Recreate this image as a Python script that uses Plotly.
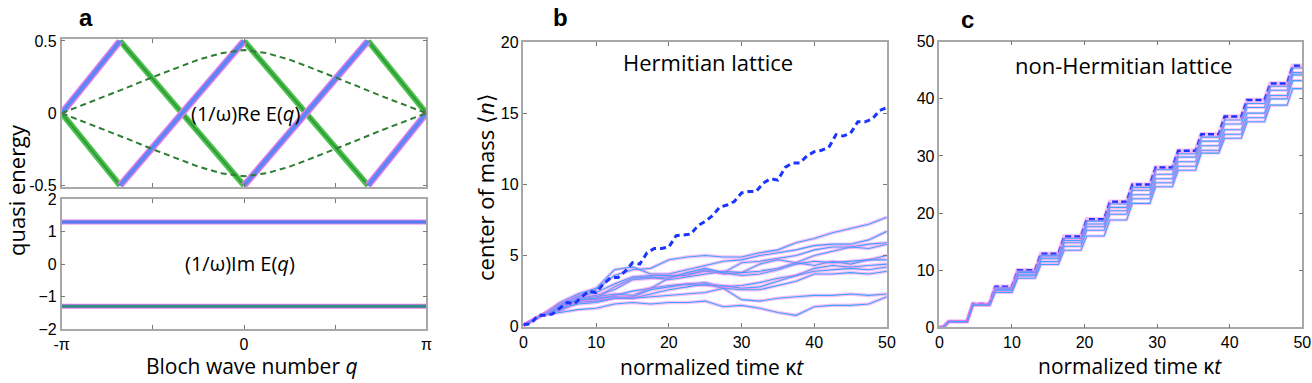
import plotly.graph_objects as go

# ---- panel a: quasi energy bands (q in units of pi) ----
re_blue_q = [-1, -0.68, None, -0.68, 0, None, 0, 0.68, None, 0.68, 1]
re_blue_e = [0, 0.5, None, -0.5, 0.5, None, -0.5, 0.5, None, -0.5, 0]
re_green_q = [-1, -0.68, None, -0.68, 0, None, 0, 0.68, None, 0.68, 1]
re_green_e = [0, -0.5, None, 0.5, -0.5, None, 0.5, -0.5, None, 0.5, 0]

dash_q = [-1, -0.875, -0.75, -0.625, -0.5, -0.375, -0.25, -0.125, 0,
          0.125, 0.25, 0.375, 0.5, 0.625, 0.75, 0.875, 1]
dash_up = [0, 0.06, 0.12, 0.185, 0.25, 0.31, 0.37, 0.415, 0.437,
           0.415, 0.37, 0.31, 0.25, 0.185, 0.12, 0.06, 0]
dash_lo = [-v for v in dash_up]

im_q = [-1, 1]
im_up = [1.3, 1.3]
im_lo = [-1.3, -1.3]

# ---- panel b: Hermitian lattice ----
t_b = [0, 2.5, 5, 7.5, 10, 12.5, 15, 17.5, 20, 22.5, 25, 27.5, 30, 32.5, 35, 37.5, 40, 42.5, 45, 47.5, 50]
herm_lines = [
    [0.1, 0.8, 1.5, 2.2, 2.6, 3.6, 4.0, 4.1, 4.7, 4.9, 5.0, 4.9, 4.9, 5.2, 5.4, 5.9, 6.2, 6.6, 6.9, 7.2, 7.7],
    [0.1, 0.8, 1.7, 2.3, 2.7, 4.0, 4.2, 3.7, 3.7, 4.0, 4.3, 4.6, 4.7, 5.0, 5.2, 5.4, 5.7, 5.8, 5.8, 6.1, 6.7],
    [0.1, 0.8, 1.4, 2.0, 2.2, 2.6, 3.3, 3.4, 3.5, 3.7, 3.9, 3.8, 4.5, 4.6, 4.8, 5.0, 5.4, 5.6, 5.6, 5.8, 5.9],
    [0.1, 0.8, 1.6, 2.1, 2.4, 3.0, 3.5, 3.6, 3.6, 3.6, 4.0, 3.7, 3.8, 4.4, 4.7, 4.5, 5.0, 5.3, 5.6, 5.5, 5.8],
    [0.1, 0.8, 1.3, 1.8, 2.0, 2.8, 3.4, 3.5, 3.3, 3.5, 3.7, 3.9, 3.8, 3.9, 4.1, 4.5, 4.3, 4.6, 4.4, 4.7, 5.0],
    [0.1, 0.8, 1.2, 1.9, 1.9, 2.2, 2.5, 2.7, 3.4, 3.8, 4.1, 3.8, 3.6, 3.7, 4.0, 4.4, 4.6, 4.5, 4.6, 4.7, 4.7],
    [0.1, 0.8, 1.5, 2.0, 2.1, 2.3, 2.2, 2.7, 2.9, 3.0, 3.1, 2.8, 2.9, 3.1, 3.4, 3.6, 4.1, 4.3, 4.2, 4.3, 4.4],
    [0.1, 0.8, 1.1, 1.7, 1.8, 2.0, 2.1, 2.6, 2.8, 3.0, 2.9, 2.9, 2.7, 2.8, 3.2, 3.6, 3.9, 4.0, 4.1, 4.0, 4.2],
    [0.1, 0.8, 1.4, 1.9, 2.0, 2.1, 2.0, 2.3, 2.6, 2.8, 3.0, 2.7, 2.6, 2.6, 2.9, 3.2, 3.7, 3.7, 3.8, 3.7, 3.9],
    [0.1, 0.8, 1.3, 1.6, 1.7, 2.0, 2.0, 2.1, 2.2, 2.3, 2.4, 2.7, 1.9, 1.8, 2.0, 2.1, 2.2, 2.2, 2.3, 2.2, 2.3],
    [0.1, 0.8, 1.0, 1.2, 1.3, 1.6, 1.7, 1.6, 1.7, 1.7, 1.8, 1.4, 1.5, 1.3, 1.0, 0.8, 1.4, 1.5, 1.5, 1.6, 2.1],
]
t_avg = list(range(0, 51))
herm_avg = [0.15, 0.2, 0.8, 0.8, 0.9, 1.3, 1.7, 1.6, 2.1, 2.5, 2.4, 3.0, 3.45, 3.45, 3.9, 4.5, 4.4,
            5.2, 5.5, 5.5, 5.6, 6.4, 6.45, 6.5, 7.1, 7.4, 7.8, 8.4, 8.55, 8.8, 9.4, 9.5, 9.5,
            10.1, 10.4, 10.3, 11.2, 11.5, 11.5, 12.0, 12.3, 12.4, 12.6, 13.5, 13.4, 13.6,
            14.4, 14.4, 14.6, 15.2, 15.4]

# ---- panel c: non-Hermitian lattice (staircase) ----
rise_t = [0.9, 4.2, 7.3, 10.4, 13.6, 16.8, 19.9, 23.1, 26.2, 29.4, 32.5, 35.7, 38.9, 42.0, 45.2, 48.3]
nh_levels = [
    [1, 4.1, 7.1, 10.0, 12.9, 15.9, 18.9, 22.0, 25.0, 28.0, 30.9, 33.8, 36.9, 39.8, 42.7, 45.8],
    [1, 4.0, 6.9, 9.8, 12.6, 15.6, 18.6, 21.6, 24.5, 27.6, 30.4, 33.3, 36.3, 39.2, 42.2, 45.4],
    [1, 4.0, 6.8, 9.6, 12.3, 15.2, 18.1, 21.0, 24.0, 26.8, 29.8, 32.6, 35.6, 38.5, 41.5, 44.6],
    [1, 3.9, 6.6, 9.3, 12.0, 14.8, 17.6, 20.4, 23.2, 26.0, 29.0, 31.8, 34.6, 37.5, 40.6, 44.2],
    [1, 3.9, 6.4, 9.0, 11.5, 14.2, 17.0, 19.8, 22.5, 25.3, 28.2, 31.0, 33.8, 36.7, 40.0, 43.2],
    [1, 3.9, 6.1, 8.6, 11.0, 13.5, 16.0, 18.8, 21.7, 24.6, 27.5, 30.5, 33.1, 36.0, 38.9, 41.8],
]

PINK = "rgba(235,120,235,0.45)"
CYAN = "#3fa2ff"
DARKBLUE = "#1a35ff"

fig = go.Figure()


def band(x, y, xa, ya, outer, ow, inner, iw):
    fig.add_trace(go.Scatter(x=x, y=y, mode="lines", xaxis=xa, yaxis=ya,
                             line=dict(color=outer, width=ow), hoverinfo="skip"))
    fig.add_trace(go.Scatter(x=x, y=y, mode="lines", xaxis=xa, yaxis=ya,
                             line=dict(color=inner, width=iw), hoverinfo="skip"))


# a top
band(re_green_q, re_green_e, "x", "y", "#4cc24c", 6, "#2f9a3a", 2)
band(re_blue_q, re_blue_e, "x", "y", "#e47ce8", 7, "#5b86f5", 4)
for d in (dash_up, dash_lo):
    fig.add_trace(go.Scatter(x=dash_q, y=d, mode="lines", xaxis="x", yaxis="y",
                             line=dict(color="#2e7d32", width=2, dash="6px,4px")))
# a bottom
band(im_q, im_up, "x2", "y2", "#e47ce8", 5, "#4f7ff0", 3)
band(im_q, im_lo, "x2", "y2", "#e47ce8", 5, "#2f8f86", 3)

# b
for ln in herm_lines:
    fig.add_trace(go.Scatter(x=t_b, y=ln, mode="lines", xaxis="x3", yaxis="y3",
                             line=dict(color=PINK, width=3.5)))
    fig.add_trace(go.Scatter(x=t_b, y=ln, mode="lines", xaxis="x3", yaxis="y3",
                             line=dict(color=CYAN, width=1.1)))
fig.add_trace(go.Scatter(x=t_avg, y=herm_avg, mode="lines", xaxis="x3", yaxis="y3",
                         line=dict(color=DARKBLUE, width=3, dash="6px,4px")))

# c
for i, lev in enumerate(nh_levels):
    xs, ys = [0], [0]
    prev = 0
    for tk, lv in zip(rise_t, lev):
        xs += [tk - 0.4, tk + 0.4]
        ys += [prev, lv]
        prev = lv
    xs.append(50)
    ys.append(prev)
    if i == 0:
        fig.add_trace(go.Scatter(x=xs, y=ys, mode="lines", xaxis="x4", yaxis="y4",
                                 line=dict(color=PINK, width=4.5)))
        fig.add_trace(go.Scatter(x=xs, y=ys, mode="lines", xaxis="x4", yaxis="y4",
                                 line=dict(color=DARKBLUE, width=2.5, dash="6px,3px")))
    else:
        fig.add_trace(go.Scatter(x=xs, y=ys, mode="lines", xaxis="x4", yaxis="y4",
                                 line=dict(color=PINK, width=3)))
        fig.add_trace(go.Scatter(x=xs, y=ys, mode="lines", xaxis="x4", yaxis="y4",
                                 line=dict(color=CYAN, width=1.1)))

ax = dict(showline=True, linecolor="#a8a8a8", linewidth=1.5, mirror="ticks",
          ticks="inside", ticklen=4, tickcolor="#777", showgrid=False, zeroline=False,
          automargin=False,
          tickfont=dict(family="Liberation Sans", size=16, color="black"))

fig.update_layout(
    width=1312, height=383, autosize=False,
    margin=dict(l=0, r=0, t=0, b=0),
    paper_bgcolor="white", plot_bgcolor="white", showlegend=False,
    xaxis=dict(ax, domain=[0.047, 0.325], range=[-1, 1], anchor="y",
               tickvals=[-1, -0.5, 0, 0.5, 1], showticklabels=False),
    yaxis=dict(ax, domain=[0.512, 0.897], range=[-0.51, 0.51], anchor="x",
               tickvals=[-0.5, 0, 0.5], ticktext=["-0.5", "0", "0.5"]),
    xaxis2=dict(ax, domain=[0.047, 0.325], range=[-1, 1], anchor="y2",
                tickvals=[-1, -0.5, 0, 0.5, 1], ticktext=["-π", "", "0", "", "π"]),
    yaxis2=dict(ax, domain=[0.141, 0.480], range=[-2, 2], anchor="x2",
                tickvals=[-2, -1, 0, 1, 2]),
    xaxis3=dict(ax, domain=[0.399, 0.676], range=[0, 50], anchor="y3", dtick=10),
    yaxis3=dict(ax, domain=[0.147, 0.890], range=[0, 20], anchor="x3", dtick=5),
    xaxis4=dict(ax, domain=[0.716, 0.9926], range=[0, 50], anchor="y4", dtick=10),
    yaxis4=dict(ax, domain=[0.1454, 0.891], range=[0, 50], anchor="x4", dtick=10),
)


def label(x, y, text, size=20, angle=0, fam="Open Sans"):
    fig.add_annotation(x=x / 1312, y=1 - y / 383, xref="paper", yref="paper",
                       text=text, showarrow=False, textangle=angle,
                       font=dict(family=fam, size=size, color="black"),
                       xanchor="center", yanchor="middle")


label(86, 17, "<b>a</b>", size=24, fam="Liberation Sans")
label(560, 17, "<b>b</b>", size=24, fam="Liberation Sans")
label(967, 19, "<b>c</b>", size=24, fam="Liberation Sans")

label(245, 113, "(1/ω)Re E(<i>q</i>)", size=20)
label(240, 263, "(1/ω)Im E(<i>q</i>)", size=20)
label(708, 62, "Hermitian lattice", size=22)
label(1124, 65, "non-Hermitian lattice", size=22)

label(252, 366, "Bloch wave number <i>q</i>", size=21)
label(712, 367, "normalized time κ<i>t</i>", size=21)
label(1130, 366, "normalized time κ<i>t</i>", size=21)
label(16, 190, "quasi energy", size=22, angle=-90)
label(485, 187, "center of mass ⟨<i>n</i>⟩", size=22, angle=-90)

# page body has a default margin; remove it so the figure sits at the top-left
fig.write_html("out.html", config={"displayModeBar": False},
               post_script="document.body.style.margin='0';")
